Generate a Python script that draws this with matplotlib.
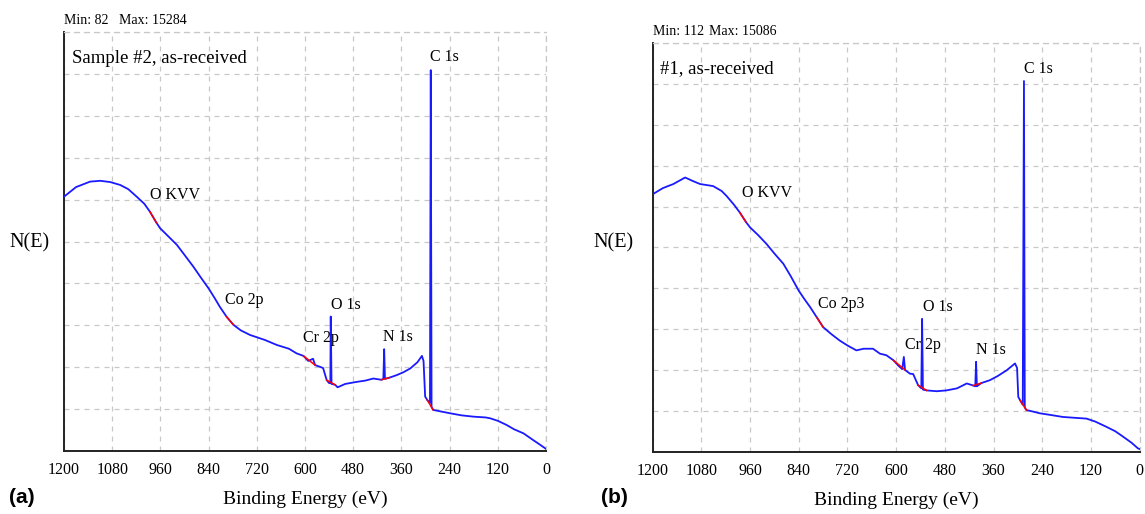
import numpy as np
import matplotlib
matplotlib.use("Agg")
import matplotlib.pyplot as plt
import matplotlib.transforms as mtransforms

plt.rcParams['font.family'] = ['Liberation Serif', 'DejaVu Serif']

# ---- data (binding energy eV, counts) ----
energy_a = [1200, 1170, 1135, 1110, 1085, 1060, 1040, 1019, 1000, 986, 970, 961, 940, 919,
            900, 878, 860, 840, 825, 812, 795, 778, 760, 737, 700, 670, 640, 621, 604,
            592, 580, 575, 563, 555, 546, 540, 537, 536, 534, 525, 519, 500, 471, 450,
            430, 410, 405, 403, 401, 390, 372, 355, 338, 320, 309, 305, 301, 296, 289,
            287, 285, 281, 260, 239, 210, 181, 150, 139, 120, 98, 80, 56, 32, 15, 0]
counts_a = [10204, 10590, 10809, 10842, 10792, 10674, 10506, 10204, 9918, 9599, 9161, 8943,
            8607, 8271, 7867, 7396, 6976, 6522, 6136, 5783, 5379, 5060, 4841, 4656, 4455,
            4253, 4102, 3917, 3816, 3614, 3700, 3446, 3379, 3328, 2841, 2723, 2723, 5396,
            2690, 2656, 2555, 2690, 2774, 2824, 2908, 2858, 2891, 4085, 2891, 2942, 3043,
            3160, 3312, 3564, 3816, 3614, 2185, 2051, 1933, 15284, 1765, 1647, 1580, 1513,
            1429, 1378, 1345, 1311, 1210, 1042, 874, 706, 437, 252, 82]

energy_b = [1200, 1175, 1149, 1120, 1100, 1083, 1051, 1030, 1018, 1000, 985, 970, 960, 940,
            919, 900, 878, 860, 840, 825, 812, 795, 780, 760, 739, 720, 698, 680, 657, 640,
            624, 607, 595, 585, 581, 578, 566, 558, 546, 538, 536, 534, 525, 500, 476, 450,
            426, 410, 405, 403, 401, 390, 369, 350, 328, 307, 302, 299, 294, 288, 285, 283,
            279, 262, 246, 220, 189, 160, 131, 110, 82, 60, 41, 20, 4, 0]
counts_b = [10477, 10726, 10893, 11159, 11009, 10893, 10810, 10610, 10410, 10061, 9729, 9346,
            9130, 8814, 8448, 8066, 7650, 7151, 6552, 6186, 5887, 5455, 5072, 4789, 4523,
            4324, 4124, 4191, 4191, 3991, 3925, 3725, 3509, 3359, 3858, 3326, 3176, 3160,
            2711, 2578, 5405, 2528, 2495, 2461, 2495, 2578, 2777, 2694, 2661, 3659, 2661,
            2794, 2910, 3077, 3309, 3592, 3409, 2228, 2079, 1912, 15086, 1796, 1696, 1630,
            1563, 1497, 1414, 1380, 1347, 1231, 1014, 832, 615, 366, 133, 112]

# red linear backgrounds under each peak region (start eV, end eV; both are listed points)
bg_a = [(986, 970), (795, 778), (604, 575), (546, 525), (410, 390), (296, 281)]
bg_b = [(985, 970), (795, 780), (607, 578), (546, 525), (410, 390), (294, 279)]

# peak labels: text, energy of left edge, height in grid units (0-10)
labels_a = [("C 1s", 289, 9.40), ("O KVV", 986, 6.11), ("Co 2p", 799, 3.60),
            ("O 1s", 536, 3.48), ("Cr 2p", 604, 2.70), ("N 1s", 405, 2.72)]
labels_b = [("C 1s", 284, 9.36), ("O KVV", 981, 6.34), ("Co 2p3", 792, 3.62),
            ("O 1s", 535, 3.54), ("Cr 2p", 578, 2.60), ("N 1s", 402, 2.48)]

title_a = "Sample #2, as-received"
title_b = "#1, as-received"
minmax_a = (82, 15284)
minmax_b = (112, 15086)
ytop_a = 16810
ytop_b = 16630
xticks = [1200, 1080, 960, 840, 720, 600, 480, 360, 240, 120, 0]

fig = plt.figure(figsize=(11.45, 5.14), dpi=100)
ax_a = fig.add_axes([0.0559, 0.1226, 0.421, 0.815])
ax_b = fig.add_axes([0.570, 0.1212, 0.4253, 0.795])


def draw_panel(ax, energy, counts, bg, labels, title, title_y, minmax, ytop, tag, tag_x):
    ax.plot(energy, counts, color='#1a1aff', lw=1.3, zorder=3)
    for e0, e1 in bg:
        c0 = counts[energy.index(e0)]
        c1 = counts[energy.index(e1)]
        ax.plot([e0, e1], [c0, c1], color='red', lw=1.1, zorder=4)

    ax.set_xlim(1200, 0)
    ax.set_ylim(0, ytop)
    ax.set_xticks(xticks)
    ax.set_xticklabels([str(t) for t in xticks], fontsize=11.5)
    ax.set_yticks(np.linspace(0, ytop, 11))
    ax.set_yticklabels([])
    ax.tick_params(length=0, pad=8)
    ax.grid(True, color='#c8c8c8', linestyle=(0, (4, 4)), lw=0.9)

    for s in ['top', 'right']:
        ax.spines[s].set_color('#c8c8c8')
        ax.spines[s].set_linestyle((0, (4, 4)))
        ax.spines[s].set_linewidth(0.9)
    for s in ['left', 'bottom']:
        ax.spines[s].set_color('#222222')
        ax.spines[s].set_linewidth(1.4)

    trans = mtransforms.blended_transform_factory(ax.transData, ax.transAxes)
    for txt, e, g in labels:
        ax.text(e, g / 10, txt, transform=trans, fontsize=11.5, ha='left', va='center')

    ax.text(0.016, title_y, title, transform=ax.transAxes, fontsize=13.5,
            ha='left', va='center')
    ax.text(0.0, 1.012, f"Min: {minmax[0]}", transform=ax.transAxes,
            fontsize=10, ha='left', va='bottom')
    ax.text(0.115, 1.012, f"Max: {minmax[1]}", transform=ax.transAxes,
            fontsize=10, ha='left', va='bottom')

    ax.set_xlabel("Binding Energy (eV)", fontsize=14, labelpad=9)
    fig.text(tag_x, 0.033, tag, fontsize=15, fontweight='bold',
             family=['Liberation Sans', 'DejaVu Sans'], ha='left', va='center')


draw_panel(ax_a, energy_a, counts_a, bg_a, labels_a, title_a, 0.938, minmax_a, ytop_a, "(a)", 0.008)
draw_panel(ax_b, energy_b, counts_b, bg_b, labels_b, title_b, 0.938, minmax_b, ytop_b, "(b)", 0.525)

fig.text(0.026, 0.527, "N(E)", fontsize=14.5, ha='center', va='center')
fig.text(0.5355, 0.527, "N(E)", fontsize=14.5, ha='center', va='center')

fig.savefig("out.png", dpi=100)
